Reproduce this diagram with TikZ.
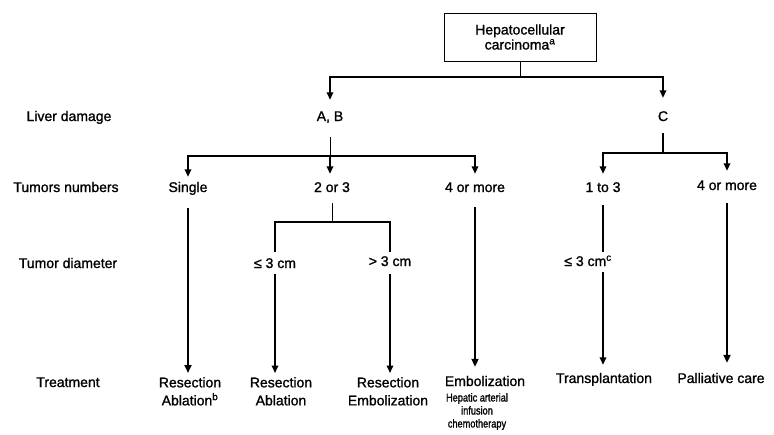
\documentclass[tikz,border=0pt]{standalone}
\usepackage{fontspec}
\setmainfont{Liberation Sans}[RawFeature={embolden=1.2}]
\newfontfamily\condfont{Liberation Sans}[RawFeature={embolden=1.2;extend=0.8}]
\usetikzlibrary{arrows.meta}
\begin{document}
\begin{tikzpicture}[x=1pt,y=-1pt,
  lbl/.style={font=\fontsize{14}{15}\selectfont, inner sep=0pt, anchor=base, text height=10pt, text depth=3pt},
  multi/.style={font=\fontsize{14}{18}\selectfont, inner sep=0pt, anchor=north, align=center},
  small/.style={font=\condfont\fontsize{11.5}{13}\selectfont, inner sep=0pt, anchor=north, align=center},
  hbox/.style={draw, line width=1pt, minimum width=152pt, minimum height=48pt, inner sep=0pt, align=center, font=\fontsize{14}{15}\selectfont},
  conn/.style={line width=1.6pt},
  stub/.style={line width=1pt},
  arr/.style={line width=1.7pt, -{Triangle[width=6.5pt,length=7.5pt]}},
  bigarr/.style={line width=2.5pt, -{Triangle[width=7pt,length=8pt]}}
]
\useasboundingbox (0,0) rectangle (774,434);

% top box
\node[hbox] (hcc) at (520,37) {Hepatocellular\\carcinoma\textsuperscript{a}};

% row labels
\node[lbl] (ld) at (69,121) {Liver damage};
\node[lbl] (tn) at (66,192) {Tumors numbers};
\node[lbl] (td) at (68,268) {Tumor diameter};
\node[lbl] (tr) at (68,387) {Treatment};

% level 1
\node[lbl] (ab) at (330,121) {A, B};
\node[lbl] (c) at (663,121) {C};

% level 2
\node[lbl] (single) at (188,192) {Single};
\node[lbl] (two) at (332,192) {2 or 3};
\node[lbl] (four1) at (475,192) {4 or more};
\node[lbl] (one3) at (603,192) {1 to 3};
\node[lbl] (four2) at (727,190) {4 or more};

% level 3
\node[lbl] (le3) at (275,268) {≤ 3 cm};
\node[lbl] (gt3) at (390,266) {> 3 cm};
\node[lbl] (le3c) at (588,266) {≤ 3 cm\textsuperscript{c}};

% treatments
\node[multi] (t1) at (190,377) {Resection\\Ablation\textsuperscript{b}};
\node[multi] (t2) at (281,377) {Resection\\Ablation};
\node[multi] (t3) at (388,377) {Resection\\Embolization};
\node[lbl] (t4) at (485,386) {Embolization};
\node[small] (t4b) at (477,393) {Hepatic arterial\\infusion\\chemotherapy};
\node[lbl] (t5) at (604,383) {Transplantation};
\node[lbl] (t6) at (721,383) {Palliative care};

% connectors: top
\coordinate (j0) at (520,77);
\draw[stub] (hcc.south) -- (j0);
\draw[arr, shorten >=11pt] (j0) -| (ab.north);
\draw[arr, shorten >=13pt] (j0) -| (c.north);

% A, B branch
\coordinate (j1) at (330,156);
\draw[stub, shorten <=13pt] (ab.south) -- (j1);
\draw[arr, shorten >=8pt] (j1) -- (j1 |- two.north);
\draw[arr, shorten >=5pt] (j1) -| (single.north);
\draw[arr, shorten >=8pt] (j1) -| (four1.north);

% C branch
\coordinate (j2) at (663,153);
\draw[conn, shorten <=9pt] (c.south) -- (j2);
\draw[arr, shorten >=8pt] (j2) -| (one3.north);
\draw[arr, shorten >=9pt] (j2) -| (four2.north);

% 2 or 3 branch
\coordinate (j3) at (332,222);
\draw[stub, shorten <=8pt] (two.south) -- (j3);
\draw[conn, shorten >=6pt] (j3) -| (le3.north);
\draw[conn, shorten >=4pt] (j3) -| (gt3.north);

% to treatments
\draw[bigarr, shorten <=13pt, shorten >=4pt] (single.south) -- (single.south |- t1.north);
\draw[arr, shorten <=3pt, shorten >=4pt] (le3.south) -- (le3.south |- t2.north);
\draw[arr, shorten <=5pt, shorten >=4pt] (gt3.south) -- (gt3.south |- t3.north);
\draw[bigarr, shorten <=12pt, shorten >=9pt] (four1.south) -- (four1.south |- t4.north);
\draw[conn, shorten <=10pt, shorten >=4pt] (one3.south) -- (one3.south |- le3c.north);
\draw[arr, shorten <=3pt, shorten >=8pt] (one3.south |- le3c.south) -- (one3.south |- t5.north);
\draw[bigarr, shorten <=10pt, shorten >=10pt] (four2.south) -- (four2.south |- t6.north);
\end{tikzpicture}
\end{document}
